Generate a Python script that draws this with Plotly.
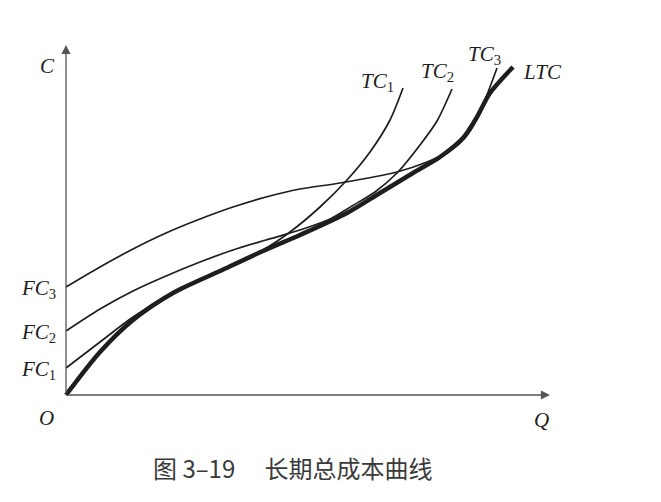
import plotly.graph_objects as go

# ─── Data (Q, C) ──────────────────────────────────────────────────────────────

q_ltc = [0, 34, 67, 107, 154, 197, 234, 281, 314, 347, 374, 397, 411, 424, 447]
c_ltc = [0, 43, 75, 102, 124, 144, 160, 182, 202, 222, 238, 257, 278, 302, 328]

q_tc1 = [0, 34, 67, 107, 154, 197, 224, 254, 281, 304, 324, 337]
c_tc1 = [27, 53, 78, 102, 124, 145, 163, 188, 215, 243, 275, 307]

q_tc2 = [0, 34, 67, 100, 134, 167, 200, 234, 264, 286, 309, 331, 354, 371, 386]
c_tc2 = [64, 86, 104, 119, 133, 145, 155, 165, 176, 189, 203, 222, 250, 274, 306]

q_tc3 = [0, 34, 67, 100, 134, 167, 200, 234, 274, 331, 361, 384, 399, 411, 431]
c_tc3 = [108, 128, 146, 162, 176, 188, 198, 206, 212, 223, 233, 244, 257, 276, 327]

fc_levels = [27, 64, 108]
fc_names = ["1", "2", "3"]

curve_names = [("TC", "1"), ("TC", "2"), ("TC", "3"), ("LTC", "")]
caption = "图 3–19　 长期总成本曲线"

# ─── Style ────────────────────────────────────────────────────────────────────

INK = "#1e1e1e"
AXIS = "#555555"
SERIF = "Liberation Serif, Times New Roman, serif"
CJK = "Noto Sans CJK SC, sans-serif"

fig = go.Figure()

for q, c in [(q_tc1, c_tc1), (q_tc2, c_tc2), (q_tc3, c_tc3)]:
    fig.add_trace(go.Scatter(
        x=q, y=c, mode="lines",
        line=dict(color=INK, width=1.7, shape="spline", smoothing=0.8),
        hoverinfo="skip",
    ))

fig.add_trace(go.Scatter(
    x=q_ltc, y=c_ltc, mode="lines",
    line=dict(color=INK, width=4.5, shape="spline", smoothing=0.8),
    hoverinfo="skip",
))

# axes with arrowheads
fig.add_annotation(x=0, y=350, ax=0, ay=0, xref="x", yref="y", axref="x", ayref="y",
                   showarrow=True, arrowhead=2, arrowsize=1.4, arrowwidth=1.3,
                   arrowcolor=AXIS, text="")
fig.add_annotation(x=484, y=0, ax=0, ay=0, xref="x", yref="y", axref="x", ayref="y",
                   showarrow=True, arrowhead=2, arrowsize=1.4, arrowwidth=1.3,
                   arrowcolor=AXIS, text="")

label_font = dict(family=SERIF, size=21, color=INK)


def sym(name, sub=""):
    t = f"<i>{name}</i>"
    if sub:
        t += f"<sub>{sub}</sub>"
    return t


def label(x, y, text):
    fig.add_annotation(x=x, y=y, xref="x", yref="y", text=text, showarrow=False,
                       font=label_font, xanchor="center", yanchor="middle")


label(-19, 329, sym("C"))
label(475, -25, sym("Q"))
label(-20, -23, sym("O"))
for lvl, s in zip(fc_levels, fc_names):
    label(-28, lvl - 2, sym("FC", s))

label_pos = [(311, 313), (371, 323), (418, 340), (476, 323)]
for (x, y), (n, s) in zip(label_pos, curve_names):
    label(x, y, sym(n, s))

fig.add_annotation(x=227, y=-72, xref="x", yref="y", text=caption,
                   showarrow=False, font=dict(family=CJK, size=24, color="#3a3a3a"),
                   xanchor="center", yanchor="middle")

# the page adds an 8px body margin, so the plot area fills the figure and the
# ranges are shifted to keep the origin at (66, 395) in the photographed page
fig.update_layout(
    width=661, height=502,
    margin=dict(l=0, r=0, t=0, b=0),
    plot_bgcolor="white", paper_bgcolor="white",
    showlegend=False,
    xaxis=dict(range=[-58, 603], visible=False, fixedrange=True),
    yaxis=dict(range=[-115, 387], visible=False, fixedrange=True),
)

fig.write_html("out.html")
